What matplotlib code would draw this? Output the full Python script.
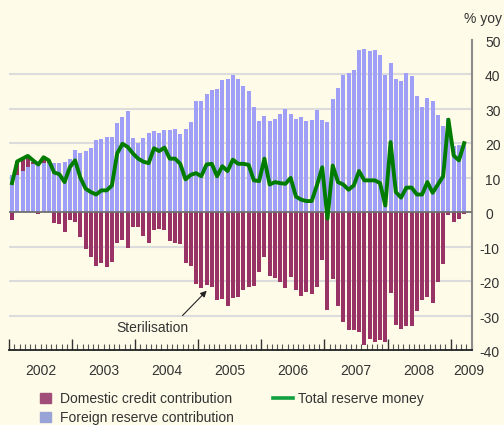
import numpy as np
import matplotlib
matplotlib.use("Agg")
import matplotlib.pyplot as plt
from matplotlib.transforms import offset_copy
from matplotlib.patches import Rectangle
from matplotlib.lines import Line2D

plt.rcParams['font.family'] = ['Liberation Sans', 'DejaVu Sans']

# monthly data, Jan 2002 .. Mar 2009 (% yoy)
foreign = [10.9, 10.9, 11.8, 13.2, 13.9, 14.0, 14.1, 14.3, 14.3, 14.1, 14.4, 15.3,
           17.9, 17.0, 17.6, 18.7, 20.8, 21.1, 21.9, 21.9, 25.7, 27.7, 29.2, 21.4,
           19.9, 21.6, 23.0, 23.4, 22.8, 23.7, 23.7, 24.2, 22.7, 24.2, 26.0, 32.1,
           32.1, 34.3, 35.5, 35.7, 38.2, 38.5, 39.9, 38.5, 36.7, 35.0, 30.6, 26.3,
           28.0, 26.3, 27.1, 28.5, 29.8, 28.5, 27.1, 27.5, 26.3, 26.8, 29.5, 26.6,
           26.0, 32.9, 36.1, 39.9, 40.4, 41.3, 46.9, 47.3, 46.6, 47.1, 45.7, 39.9,
           43.3, 38.7, 38.0, 40.3, 39.6, 33.6, 30.6, 33.1, 32.1, 28.3, 25.1, 27.3,
           19.3, 19.6, 19.8]
domestic = [-2.4, 3.8, 3.7, 3.1, 0.7, -0.6, 1.9, 0.5, -3.2, -3.5, -5.8, -2.3,
            -3.0, -7.2, -10.8, -13.0, -15.7, -14.8, -16.0, -14.5, -9.0, -8.2, -10.5, -4.3,
            -4.3, -7.0, -9.0, -5.3, -4.8, -5.3, -8.5, -9.0, -9.3, -14.8, -15.5, -20.8,
            -22.0, -21.1, -21.7, -25.4, -25.1, -27.1, -24.8, -24.6, -22.5, -21.7, -21.5, -17.4,
            -12.9, -18.6, -19.0, -20.3, -22.0, -18.8, -22.5, -24.3, -23.2, -23.7, -21.7, -14.0,
            -28.3, -19.3, -27.2, -31.9, -34.1, -34.1, -34.8, -38.5, -36.7, -37.7, -37.2, -37.7,
            -23.5, -32.7, -33.8, -33.1, -33.0, -28.7, -25.4, -24.6, -26.4, -20.3, -15.0, -0.9,
            -2.9, -2.0, -0.6]
total = [8.4, 14.7, 15.5, 16.3, 15.0, 13.8, 15.9, 15.0, 11.5, 11.0, 8.7, 13.0,
         15.0, 10.0, 6.8, 5.8, 5.1, 6.3, 6.3, 7.7, 17.0, 19.8, 18.9, 17.0,
         15.5, 14.6, 14.2, 18.5, 17.7, 18.7, 15.5, 15.5, 14.0, 9.5, 10.8, 11.3,
         10.4, 13.8, 14.0, 10.4, 13.3, 11.9, 15.2, 14.0, 14.0, 13.7, 9.2, 9.0,
         15.5, 8.0, 8.7, 8.4, 8.2, 9.9, 4.5, 3.6, 3.2, 3.2, 7.8, 13.0,
         -1.9, 13.5, 8.7, 8.0, 6.5, 7.7, 11.9, 9.2, 9.2, 9.2, 8.4, 1.9,
         20.3, 5.8, 4.2, 7.1, 7.1, 5.1, 5.1, 8.7, 5.6, 8.0, 10.4, 26.8,
         16.4, 15.0, 20.0]
years = ['2002', '2003', '2004', '2005', '2006', '2007', '2008', '2009']
year_pos = [6, 18, 30, 42, 54, 66, 78, 87.4]
yticks = [50, 40, 30, 20, 10, 0, -10, -20, -30, -40]

bg = '#fefbe8'
blue = '#9f9ff7'
maroon = '#993366'
green = '#007d00'
txt = '#333333'

W, H = 504, 425
fig = plt.figure(figsize=(W / 100, H / 100), dpi=100, facecolor=bg)
ax = fig.add_axes([9 / W, 1 - 350 / H, 462.7 / W, 310.3 / H])
ax.set_facecolor(bg)

x = np.arange(len(foreign)) + 0.57
fr = np.array(foreign)
dom = np.array(domestic)
bottom = np.where(dom > 0, fr, 0)

for g in [40, 30, 20, 10, -10, -20, -30]:
    ax.axhline(g, color='#dcdcdc', lw=1.5, zorder=1)
ax.bar(x, fr, width=0.76, color=blue, zorder=2)
ax.bar(x, dom, bottom=bottom, width=0.76, color=maroon, zorder=2)
ax.axhline(0, color='#707070', lw=1.3, zorder=3)
ax.plot(x, total, color=green, lw=2.8, zorder=4)

ax.set_xlim(0, 88)
ax.set_ylim(-40, 50)
for s in ['top', 'left']:
    ax.spines[s].set_visible(False)
ax.spines['right'].set_color('#8c8c8c')
ax.spines['right'].set_linewidth(1.5)
ax.spines['bottom'].set_color('#222222')
ax.spines['bottom'].set_linewidth(1.3)

ax.set_yticks([])
ax.set_xticks(np.arange(0, 85, 12))
ax.set_xticks(np.arange(0, 89), minor=True)
ax.tick_params(axis='x', which='major', direction='in', length=8, width=1.0,
               color='#333333', labelbottom=False)
ax.tick_params(axis='x', which='minor', direction='in', length=4, width=0.8,
               color='#555555')

ytr_pos = offset_copy(ax.get_yaxis_transform(), fig=fig, x=13.3, y=-3, units='dots')
ytr_neg = offset_copy(ax.get_yaxis_transform(), fig=fig, x=7.6, y=-3, units='dots')
for v in yticks:
    ax.text(1, v, str(v), transform=ytr_neg if v < 0 else ytr_pos,
            ha='left', va='center', fontsize=10, color=txt, clip_on=False)

xtr = offset_copy(ax.get_xaxis_transform(), fig=fig, x=0, y=-20.7, units='dots')
for p, lab in zip(year_pos, years):
    ax.text(p, 0, lab, transform=xtr, ha='center', va='center',
            fontsize=10, color=txt, clip_on=False)

fig.text(501.7 / W, 1 - 19.5 / H, '% yoy', ha='right', va='center',
         fontsize=10, color=txt)

ax.annotate('', xy=(37.6, -22.8), xytext=(33.0, -30.0),
            arrowprops=dict(arrowstyle='-|>', color='#222222', lw=0.8,
                            mutation_scale=9, shrinkA=0, shrinkB=0))
ax.text(27.3, -33.7, 'Sterilisation', ha='center', va='center',
        fontsize=10, color=txt)

# legend drawn by hand in pixel positions
def fx(px):
    return px / W

def fy(py):
    return 1 - py / H

fig.add_artist(Rectangle((fx(40), fy(403)), 11 / W, 10 / H,
                         transform=fig.transFigure, color='#a04d7a'))
fig.add_artist(Rectangle((fx(40), fy(422)), 11 / W, 10 / H,
                         transform=fig.transFigure, color='#98a4d8'))
fig.text(fx(60), fy(403.3), 'Domestic credit contribution', fontsize=10,
         color=txt, va='baseline')
fig.text(fx(60), fy(421.6), 'Foreign reserve contribution', fontsize=10,
         color=txt, va='baseline')
fig.add_artist(Line2D([fx(272.7), fx(293.3)], [fy(397.7), fy(397.7)],
                      transform=fig.transFigure, color='#10a040', lw=2.6))
fig.text(fx(298.3), fy(403.3), 'Total reserve money', fontsize=10,
         color=txt, va='baseline')

fig.savefig('out.png', dpi=100, facecolor=bg)
